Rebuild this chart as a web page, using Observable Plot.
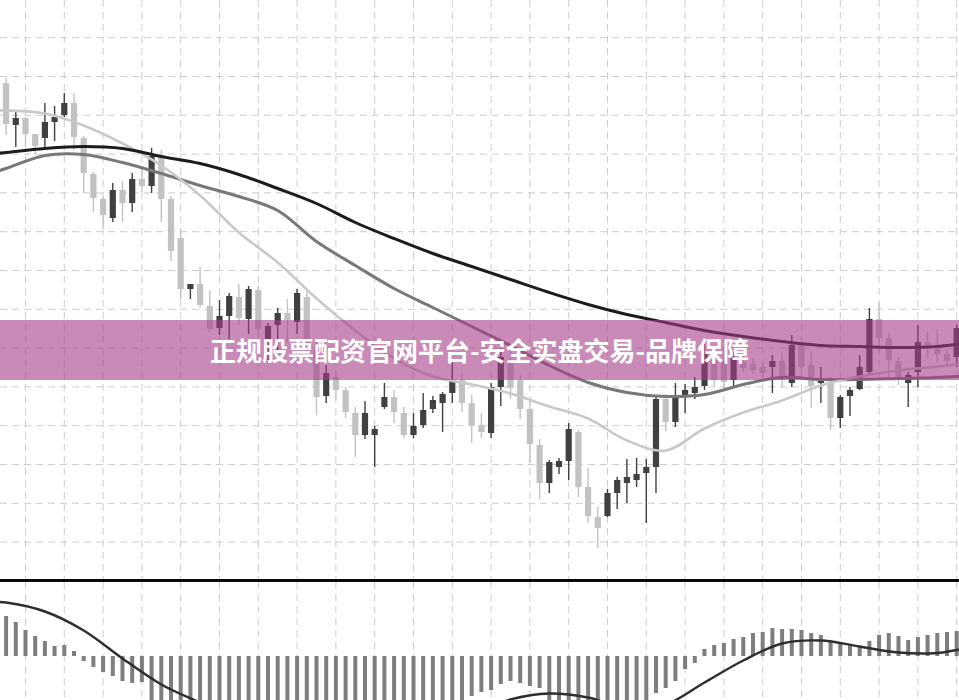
<!DOCTYPE html>
<html><head><meta charset="utf-8">
<script src="https://cdn.jsdelivr.net/npm/d3@7"></script>
<script src="https://cdn.jsdelivr.net/npm/@observablehq/plot@0.6"></script>
<style>
html,body{margin:0;padding:0;background:#fff;overflow:hidden}
#wrap{position:relative;width:959px;height:700px;overflow:hidden;background:#fff}
#main{position:absolute;left:0;top:0;width:959px;height:580px;overflow:hidden}
#sep{position:absolute;left:0;top:579px;width:959px;height:3px;background:#0a0a0a}
#macd{position:absolute;left:0;top:582px;width:959px;height:118px;overflow:hidden}
#banner{position:absolute;left:0;top:320px;width:959px;height:60px;background:rgba(165,60,135,0.6);display:flex;align-items:center;justify-content:center;color:#fff;font-family:"Noto Sans CJK SC","Noto Sans",sans-serif;font-weight:700;font-size:26px;line-height:1;white-space:nowrap}
svg{display:block}
</style></head>
<body><div id="wrap"><div id="main"></div><div id="sep"></div><div id="macd"></div><div id="banner">正规股票配资官网平台-安全实盘交易-品牌保障</div></div>
<script>
// ---- data ----
const opens = [51.7,47.5,48.2,46.6,46.2,47.8,48.5,49.7,46.2,42.6,
40.1,38.2,41.0,39.7,42.1,41.4,44.3,40.1,36.2,31.1,
31.6,29.4,27.2,28.4,30.3,28.1,31.0,26.1,27.5,28.7,
27.8,30.3,25.0,20.4,22.3,21.0,18.7,16.5,16.5,19.3,
20.3,18.7,16.5,17.5,19.1,19.7,20.7,22.0,19.7,17.5,
16.7,21.3,24.0,22.0,19.1,15.5,11.7,13.3,13.9,16.8,
11.3,8.3,8.4,10.7,11.7,12.0,12.7,13.3,20.1,17.8,
20.4,20.7,21.4,24.0,23.8,22.0,23.8,23.6,23.3,23.3,
23.9,21.7,25.5,23.5,21.7,21.7,18.2,20.4,21.1,22.8,
28.1,26.2,23.9,21.7,22.8,25.8,25.1,24.6,24.3];
const closes = [47.6,48.2,46.6,45.4,47.8,48.3,49.7,46.3,42.7,40.2,
38.5,41.0,39.7,42.1,41.4,44.4,40.1,34.9,31.1,31.6,
29.5,27.1,28.4,30.4,28.2,31.1,27.1,27.4,28.7,28.0,
30.7,25.5,20.3,22.7,21.0,18.8,16.5,18.7,17.1,20.3,
18.8,16.5,17.4,19.0,20.0,20.6,22.0,19.7,17.5,16.8,
21.3,24.3,21.2,19.1,15.6,11.7,13.8,13.9,17.1,11.3,
8.4,7.2,10.7,12.0,12.3,12.6,13.3,20.1,17.8,20.2,
21.0,21.3,24.8,22.0,21.8,24.2,23.2,23.0,22.7,23.9,
22.0,25.5,23.3,21.4,22.0,18.2,20.3,21.0,23.3,28.1,
26.2,24.0,22.2,22.5,25.8,25.3,24.6,23.9,27.2];
const highs = [52.2,49.0,48.3,46.6,49.7,49.4,50.7,50.7,46.4,42.8,
40.3,41.7,41.9,42.7,43.4,45.2,45.0,40.4,37.1,31.6,
33.3,31.0,30.0,30.7,31.6,31.4,31.4,27.7,29.2,30.1,
31.1,31.1,26.0,23.5,23.0,21.3,19.3,19.9,17.4,21.7,
21.0,19.3,18.7,20.7,20.4,20.8,23.9,22.7,20.5,18.7,
21.7,25.2,25.0,22.5,20.1,16.1,14.0,14.2,17.7,17.0,
13.2,9.3,11.1,12.3,14.1,14.2,14.1,20.5,20.6,21.7,
21.6,22.3,25.6,25.0,24.5,24.8,24.5,24.2,23.8,24.5,
24.7,26.5,26.2,24.8,23.3,22.3,20.5,21.3,24.5,29.2,
29.7,26.7,24.3,22.8,27.5,26.8,27.1,25.0,27.5];
const lows = [46.5,45.3,45.4,44.5,45.0,45.9,48.3,45.0,40.7,38.8,
37.2,37.8,37.8,38.8,40.8,40.7,37.8,33.9,30.1,30.1,
29.2,26.8,26.5,26.1,27.5,26.6,26.3,23.7,25.0,25.7,
26.6,24.8,18.5,19.7,20.1,18.2,14.3,16.1,13.3,19.1,
17.7,16.2,16.2,17.2,18.7,16.8,19.7,18.8,15.7,16.2,
16.2,19.4,20.1,18.1,13.7,10.1,10.7,12.6,12.0,10.3,
7.7,5.2,8.3,9.1,9.7,11.3,7.7,10.7,16.9,17.3,
18.7,20.1,21.0,21.4,21.2,21.2,22.8,22.6,22.2,20.7,
21.3,21.3,22.7,19.2,19.7,17.0,17.2,18.4,21.0,22.5,
24.7,22.3,21.5,19.3,21.3,24.2,23.7,23.3,23.3];

// moving averages, sampled every 4 bars (plus the picture's left and right edges)
const maIdx  = [-1,0,4,8,12,16,20,24,28,32,36,40,44,48,52,56,60,64,68,72,76,80,84,88,92,96,98,99];
const maFast = [49.0,49.0,48.7,47.5,45.7,43.5,40.5,36.8,33.8,30.2,27.0,24.2,22.4,21.6,20.7,19.4,18.2,16.0,15.0,17.2,18.8,20.0,21.5,22.4,23.0,23.4,23.6,23.7];
const maMid  = [42.9,43.2,44.5,44.6,43.8,42.7,41.5,40.4,39.0,35.9,33.5,31.2,29.3,27.4,25.5,23.5,21.8,20.8,20.4,20.6,21.6,22.3,22.1,22.1,22.2,22.3,22.4,22.4];
const maSlow = [44.7,44.8,45.2,45.4,45.2,44.4,43.7,42.6,41.2,39.7,37.8,36.2,34.7,33.4,32.1,30.8,29.6,28.6,27.8,27.0,26.4,25.9,25.5,25.4,25.3,25.4,25.6,25.7];

// MACD histogram (one per bar) and MACD line (every 4 bars, plus edges)
const histo = [0.40,0.34,0.26,0.20,0.15,0.10,0.11,0.05,-0.05,-0.11,
-0.16,-0.20,-0.25,-0.27,-0.26,-0.48,-0.56,-0.66,-0.76,-0.84,
-0.90,-0.92,-0.92,-0.90,-0.88,-0.86,-0.84,-0.82,-0.80,-0.78,
-0.74,-0.74,-0.78,-0.80,-0.78,-0.76,-0.76,-0.74,-0.72,-0.68,
-0.64,-0.62,-0.60,-0.58,-0.54,-0.52,-0.50,-0.47,-0.40,-0.36,
-0.34,-0.28,-0.25,-0.27,-0.30,-0.32,-0.46,-0.48,-0.47,-0.52,
-0.58,-0.64,-0.62,-0.58,-0.54,-0.50,-0.46,-0.37,-0.32,-0.25,
-0.13,-0.07,0.07,0.11,0.13,0.17,0.19,0.23,0.24,0.28,
0.27,0.27,0.26,0.23,0.21,0.14,0.13,0.12,0.10,0.15,
0.21,0.23,0.20,0.16,0.19,0.21,0.23,0.24,0.25];
const macdIdx = maIdx;
const macdLine = [0.545,0.54,0.45,0.26,-0.02,-0.28,-0.46,-0.62,-0.74,-0.80,-0.82,-0.80,-0.72,-0.58,-0.43,-0.37,-0.41,-0.52,-0.48,-0.26,-0.04,0.13,0.16,0.10,0.04,0.035,0.065,0.07];

// grid
const gridBars = [2,6,10,14,18,22,26,30,34,38,42,46,50,54,58,62,66,70,74,78,82,86,90,94,98];
const gridPrices = [56.28,52.40,48.52,44.64,40.76,36.88,33.00,29.12,25.24,21.36,17.48,13.60,9.72,5.84];

// ---- build tables ----
const UP = "#404040", DOWN = "#c2c2c2";
const bars = opens.map((o, i) => ({
  i, open: o, close: closes[i], high: highs[i], low: lows[i],
  col: closes[i] >= o ? UP : DOWN
}));
const fast = maIdx.map((i, k) => ({i, v: maFast[k]}));
const mid = maIdx.map((i, k) => ({i, v: maMid[k]}));
const slow = maIdx.map((i, k) => ({i, v: maSlow[k]}));
const hist = histo.map((h, i) => ({i, h}));
const macd = macdIdx.map((i, k) => ({i, v: macdLine[k]}));

const xDomain = [-0.577, 98.29];
const gridStyle = {stroke: "#cdcdcd", strokeWidth: 1, strokeDasharray: "7,5"};

const main = Plot.plot({
  width: 959, height: 580, margin: 0,
  style: {background: "transparent", overflow: "hidden"},
  x: {domain: xDomain, axis: null},
  y: {domain: [2, 60], axis: null},
  marks: [
    Plot.ruleX(gridBars, gridStyle),
    Plot.ruleY(gridPrices, gridStyle),
    Plot.ruleX(bars, {x: "i", y1: "low", y2: "high", stroke: "col", strokeWidth: 1.4}),
    Plot.ruleX(bars, {x: "i", y1: "open", y2: "close", stroke: "col", strokeWidth: 6.2}),
    Plot.line(mid, {x: "i", y: "v", stroke: "#787878", strokeWidth: 3, curve: "catmull-rom", clip: true}),
    Plot.line(fast, {x: "i", y: "v", stroke: "#c9c9c9", strokeWidth: 2.6, curve: "catmull-rom", clip: true}),
    Plot.line(slow, {x: "i", y: "v", stroke: "#1c1c1c", strokeWidth: 3, curve: "catmull-rom", clip: true})
  ]
});
document.getElementById("main").appendChild(main);

const lower = Plot.plot({
  width: 959, height: 118, margin: 0,
  style: {background: "transparent", overflow: "hidden"},
  x: {domain: xDomain, axis: null},
  y: {domain: [-0.44, 0.74], axis: null},
  marks: [
    Plot.ruleX(gridBars, gridStyle),
    Plot.ruleX(hist, {x: "i", y1: 0, y2: "h", stroke: "#7e7e7e", strokeWidth: 4, clip: true}),
    Plot.line(macd, {x: "i", y: "v", stroke: "#2e2e2e", strokeWidth: 2.4, curve: "catmull-rom", clip: true})
  ]
});
document.getElementById("macd").appendChild(lower);
</script></body></html>
